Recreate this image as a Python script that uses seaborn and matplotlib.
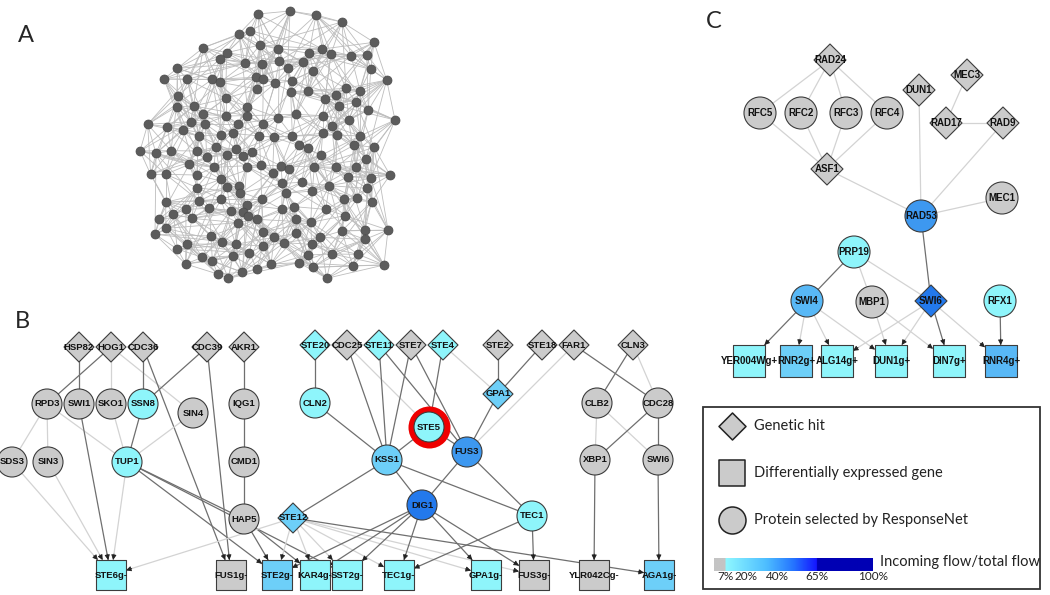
import numpy as np
import pandas as pd
import matplotlib
matplotlib.use('Agg')
import matplotlib.pyplot as plt
from matplotlib.patches import Rectangle
from matplotlib.colors import LinearSegmentedColormap
import seaborn as sns

# ---------------- panel A : background interactome (positions read in panel frame) ----------------
a_x = [357, 390, 420, 250, 320, 300, 473, 567, 607, 633, 693, 740, 762,
       172, 375, 427, 478, 503, 548, 580, 752,
       132, 202, 277, 300, 408, 430, 465, 515,
       412, 512, 565, 678, 720, 647, 615,
       173, 317, 170, 222, 382, 657, 708, 745,
       250, 317, 380, 527, 475, 608,
       212, 256, 355, 428, 686, 635, 83, 142,
       190, 303, 338, 418, 462, 517, 608, 650, 720, 236,
       287, 347, 397, 370, 538, 563, 603, 703, 762, 60, 108, 153, 230, 320, 260,
       738, 208, 282, 380, 422, 483, 508, 583, 648, 707,
       92, 137, 230, 458, 685, 752,
       303, 487, 545, 628, 232, 320, 358, 742,
       360, 497, 577, 137, 238, 303, 425, 672, 712, 755,
       198, 268, 333, 380, 370, 485, 523, 617,
       160, 216, 385, 412, 527, 353, 572, 675, 117,
       138, 105, 430, 527, 665, 735, 273, 463, 600, 735,
       202, 307, 347, 430, 493, 575,
       172, 388, 563, 637, 715, 338,
       247, 277, 537, 197, 698,
       410, 453, 367, 578, 293, 325, 620,
       414, 510, 588, 666, 800, 825, 810, 804, 792]
a_y = [12, 2, 45, 53, 68, 87, 57, 70, 57, 72, 77, 75, 37,
       115, 100, 102, 93, 113, 97, 122, 118,
       147, 148, 148, 157, 142, 148, 160, 152,
       177, 185, 183, 175, 182, 195, 207,
       198, 205, 230, 228, 230, 228, 217, 240,
       253, 258, 257, 253, 263, 257,
       275, 282, 282, 282, 270, 288, 283, 290,
       300, 315, 310, 318, 322, 318, 310, 315, 318, 318,
       352, 357, 365, 378, 345, 355, 376, 345, 352, 363, 370, 362, 363, 375, 382,
       387, 403, 412, 410, 405, 408, 418, 410, 412, 410,
       433, 433, 435, 430, 440, 445,
       448, 460, 457, 467, 473, 472, 467, 475,
       490, 490, 483, 517, 513, 508, 508, 508, 505, 515,
       538, 535, 542, 525, 545, 537, 530, 538,
       553, 565, 557, 568, 567, 578, 577, 557, 568,
       595, 613, 605, 610, 603, 600, 618, 622, 622, 628,
       642, 635, 643, 648, 638, 643,
       657, 668, 675, 672, 673, 678,
       682, 692, 698, 702, 707,
       717, 702, 727, 712, 732, 745, 745,
       -48, -57, -45, -24, 150, 270, 435, 600, 705]

# ---------------- panel B : pheromone response network ----------------
b_names = ['HSP82', 'HOG1', 'CDC36', 'CDC39', 'AKR1', 'STE20', 'CDC25', 'STE11', 'STE7', 'STE4',
           'STE2', 'STE18', 'FAR1', 'CLN3',
           'RPD3', 'SWI1', 'SKO1', 'SSN8', 'SIN4', 'IQG1', 'CLN2', 'GPA1', 'CLB2', 'CDC28',
           'STE5', 'SDS3', 'SIN3', 'TUP1', 'CMD1', 'KSS1', 'FUS3', 'XBP1', 'SWI6',
           'HAP5', 'STE12', 'DIG1', 'TEC1',
           'STE6g-', 'FUS1g-', 'STE2g-', 'KAR4g-', 'SST2g-', 'TEC1g-', 'GPA1g-', 'FUS3g-',
           'YLR042Cg-', 'AGA1g-']
b_x = [79, 111, 143, 207, 244, 315, 347, 379, 411, 443, 498, 542, 574, 633,
       47, 79, 111, 143, 193, 244, 315, 498, 597, 658,
       429, 12, 48, 127, 244, 387, 467, 595, 658,
       244, 293, 422, 532,
       111, 231, 277, 315, 347, 399, 486, 534, 594, 659]
b_y = [347, 347, 347, 347, 347, 345, 345, 345, 345, 345, 345, 345, 345, 345,
       404, 404, 404, 404, 413, 404, 403, 394, 403, 403,
       427, 462, 462, 462, 462, 460, 452, 460, 460,
       519, 518, 505, 516,
       575, 575, 575, 575, 575, 575, 575, 575, 575, 575]
b_shape = ['hit'] * 14 + ['prot'] * 7 + ['hit'] + ['prot'] * 11 + ['prot', 'hit', 'prot', 'prot'] + ['gene'] * 10
b_col = ['gray', 'gray', 'gray', 'gray', 'gray', 'c1', 'gray', 'c1', 'gray', 'c1', 'gray', 'gray', 'gray', 'gray',
         'gray', 'gray', 'gray', 'c1', 'gray', 'gray', 'c1', 'c2', 'gray', 'gray',
         'c1', 'gray', 'gray', 'c1', 'gray', 'c2', 'c3', 'gray', 'gray',
         'gray', 'c2', 'c4', 'c1',
         'c1', 'gray', 'c2', 'c1', 'c1', 'c1', 'c1', 'gray', 'gray', 'c2']
b_edges = [('HSP82', 'SWI1', 'd'), ('HOG1', 'RPD3', 'd'), ('HOG1', 'SKO1', 'l'), ('HOG1', 'SIN4', 'l'),
           ('CDC36', 'SSN8', 'd'), ('CDC36', 'FUS1g-', 'd'), ('CDC39', 'SSN8', 'd'), ('CDC39', 'FUS1g-', 'd'),
           ('AKR1', 'IQG1', 'd'), ('RPD3', 'SDS3', 'l'), ('RPD3', 'SIN3', 'l'), ('RPD3', 'TUP1', 'l'),
           ('SKO1', 'TUP1', 'l'), ('SSN8', 'TUP1', 'd'), ('SIN4', 'TUP1', 'l'), ('IQG1', 'CMD1', 'd'),
           ('CMD1', 'HAP5', 'd'), ('TUP1', 'HAP5', 'd'), ('TUP1', 'STE2g-', 'd'), ('TUP1', 'SST2g-', 'd'),
           ('SDS3', 'STE6g-', 'l'), ('SIN3', 'STE6g-', 'l'), ('SWI1', 'STE6g-', 'd'), ('TUP1', 'STE6g-', 'l'),
           ('HAP5', 'STE2g-', 'd'), ('HAP5', 'KAR4g-', 'd'), ('STE12', 'STE6g-', 'l'), ('STE12', 'STE2g-', 'l'),
           ('STE12', 'KAR4g-', 'l'), ('STE12', 'SST2g-', 'l'), ('STE12', 'TEC1g-', 'l'), ('STE12', 'GPA1g-', 'l'),
           ('STE12', 'FUS3g-', 'l'), ('STE12', 'AGA1g-', 'd'), ('KSS1', 'STE12', 'd'), ('STE20', 'CLN2', 'd'),
           ('CLN2', 'KSS1', 'd'), ('CDC25', 'KSS1', 'd'), ('CDC25', 'STE5', 'l'), ('STE11', 'KSS1', 'd'),
           ('STE11', 'FUS3', 'd'), ('STE7', 'KSS1', 'd'), ('STE7', 'FUS3', 'd'), ('STE4', 'STE5', 'd'),
           ('STE4', 'GPA1', 'l'), ('STE2', 'GPA1', 'd'), ('STE18', 'GPA1', 'd'), ('FAR1', 'FUS3', 'l'),
           ('FAR1', 'CDC28', 'd'), ('CLN3', 'CLB2', 'd'), ('CLN3', 'CDC28', 'l'), ('GPA1', 'FUS3', 'd'),
           ('STE5', 'KSS1', 'd'), ('STE5', 'FUS3', 'd'), ('KSS1', 'DIG1', 'd'), ('FUS3', 'DIG1', 'd'),
           ('KSS1', 'TEC1', 'd'), ('FUS3', 'TEC1', 'd'), ('DIG1', 'STE2g-', 'd'), ('DIG1', 'KAR4g-', 'd'),
           ('DIG1', 'SST2g-', 'd'), ('DIG1', 'TEC1g-', 'd'), ('DIG1', 'GPA1g-', 'd'), ('DIG1', 'FUS3g-', 'd'),
           ('TEC1', 'TEC1g-', 'd'), ('TEC1', 'FUS3g-', 'd'), ('CLB2', 'XBP1', 'l'), ('CLB2', 'SWI6', 'l'),
           ('CDC28', 'XBP1', 'd'), ('CDC28', 'SWI6', 'd'), ('XBP1', 'YLR042Cg-', 'd'), ('SWI6', 'AGA1g-', 'd')]

# ---------------- panel C : DNA damage network ----------------
c_names = ['RAD24', 'RFC5', 'RFC2', 'RFC3', 'RFC4', 'DUN1', 'MEC3', 'RAD17', 'RAD9', 'ASF1', 'MEC1',
           'RAD53', 'PRP19', 'SWI4', 'MBP1', 'SWI6', 'RFX1',
           'YER004Wg+', 'RNR2g+', 'ALG14g+', 'DUN1g+', 'DIN7g+', 'RNR4g+']
c_x = [830, 760, 801, 846, 887, 919, 967, 946, 1003, 827, 1002,
       921, 854, 807, 872, 931, 1000,
       749, 796, 837, 891, 949, 1001]
c_y = [60, 113, 113, 113, 113, 90, 75, 123, 123, 169, 198,
       216, 252, 301, 302, 301, 301,
       361, 361, 361, 361, 361, 361]
c_shape = ['hit', 'prot', 'prot', 'prot', 'prot', 'hit', 'hit', 'hit', 'hit', 'hit', 'prot',
           'prot', 'prot', 'prot', 'prot', 'hit', 'prot'] + ['gene'] * 6
c_col = ['gray'] * 11 + ['c3', 'c1', 'c2b', 'gray', 'c4', 'c1',
                         'c1', 'c2', 'c1', 'c1', 'c1', 'c2b']
c_edges = [('RAD24', 'RFC5', 'l'), ('RAD24', 'RFC2', 'l'), ('RAD24', 'RFC3', 'l'), ('RAD24', 'RFC4', 'l'),
           ('RFC5', 'ASF1', 'l'), ('RFC2', 'ASF1', 'l'), ('RFC3', 'ASF1', 'l'), ('RFC4', 'ASF1', 'l'),
           ('ASF1', 'RAD53', 'l'), ('DUN1', 'RAD53', 'l'), ('MEC3', 'RAD17', 'l'), ('RAD17', 'RAD9', 'l'),
           ('RAD9', 'RAD53', 'l'), ('MEC1', 'RAD53', 'l'), ('RAD53', 'SWI6', 'd'),
           ('PRP19', 'SWI4', 'd'), ('PRP19', 'MBP1', 'l'), ('PRP19', 'SWI6', 'l'),
           ('SWI4', 'YER004Wg+', 'd'), ('SWI4', 'RNR2g+', 'l'), ('SWI4', 'ALG14g+', 'l'), ('SWI4', 'DUN1g+', 'l'),
           ('MBP1', 'DUN1g+', 'l'), ('MBP1', 'DIN7g+', 'l'),
           ('SWI6', 'ALG14g+', 'l'), ('SWI6', 'DUN1g+', 'l'), ('SWI6', 'DIN7g+', 'd'), ('SWI6', 'RNR4g+', 'l'),
           ('RFX1', 'RNR4g+', 'd')]

# legend / flow scale
legend_labels = ['Genetic hit', 'Differentially expressed gene', 'Protein selected by ResponseNet']
legend_shapes = ['hit', 'gene', 'prot']
flow_ticks = [7, 20, 40, 65, 100]

palette = {'gray': '#cbcbcb', 'c1': '#8ef5fb', 'c2': '#6dcff8', 'c2b': '#58b8f6',
           'c3': '#3d98f0', 'c4': '#2379ec'}
markers = {'hit': 'D', 'gene': 's', 'prot': 'o'}
PT = 0.72  # points per pixel at dpi 100

sns.set_style('white')
plt.rcParams['font.family'] = ['Liberation Sans', 'DejaVu Sans']

fig = plt.figure(figsize=(10.5, 5.95), dpi=100)
ax = fig.add_axes([0, 0, 1, 1])


def marker_size(shape, d):
    # d = visual extent in pixels
    if shape == 'hit':
        return (d / 1.414 * PT) ** 2
    return (d * PT) ** 2


def draw_network(df, edges, d, fs):
    pos = {n: (x, y) for n, x, y in zip(df['name'], df['x'], df['y'])}
    kind = dict(zip(df['name'], df['shape']))
    for s, t, k in edges:
        x0, y0 = pos[s]
        x1, y1 = pos[t]
        col = '#6f6f6f' if k == 'd' else '#d3d3d3'
        if kind[t] == 'gene':
            dx, dy = x1 - x0, y1 - y0
            h = d / 2
            f = min(h / abs(dx) if dx else np.inf, h / abs(dy) if dy else np.inf)
            ex, ey = x1 - dx * f, y1 - dy * f
            ax.plot([x0, ex], [y0, ey], color=col, lw=0.9, zorder=1)
            L = np.hypot(dx, dy)
            ax.annotate('', xy=(ex, ey), xytext=(ex - dx / L * 6, ey - dy / L * 6),
                        arrowprops=dict(arrowstyle='-|>', color='#222222', lw=0.6,
                                        mutation_scale=7.5, shrinkA=0, shrinkB=0), zorder=2)
        else:
            ax.plot([x0, x1], [y0, y1], color=col, lw=0.9, zorder=1)
    for shp, mk in markers.items():
        sub = df[df['shape'] == shp]
        sns.scatterplot(data=sub, x='x', y='y', hue='col', palette=palette, marker=mk,
                        s=marker_size(shp, d), edgecolor='#3c3c3c', linewidth=0.8,
                        legend=False, ax=ax, zorder=3)
    for n, x, y in zip(df['name'], df['x'], df['y']):
        ax.text(x, y, n, ha='center', va='center', fontsize=fs, fontweight='bold',
                color='#111111', zorder=5)


dfB = pd.DataFrame({'name': b_names, 'x': b_x, 'y': b_y, 'shape': b_shape, 'col': b_col})
dfC = pd.DataFrame({'name': c_names, 'x': c_x, 'y': c_y, 'shape': c_shape, 'col': c_col})

# red ring around STE5
ste5 = dfB[dfB['name'] == 'STE5']
ax.scatter(ste5['x'], ste5['y'], s=(42 * PT) ** 2, color='#ee0000', zorder=2.5, linewidths=0)

draw_network(dfB, b_edges, 30, 6.8)
draw_network(dfC, c_edges, 32, 7.0)

# legend box
ax.add_patch(Rectangle((703, 407), 337, 182, fill=False, ec='#333333', lw=1.3, zorder=1))
for i, (lab, shp) in enumerate(zip(legend_labels, legend_shapes)):
    yy = 426 + i * 47
    ax.scatter([732], [yy], marker=markers[shp], s=marker_size(shp, 27), color='#cbcbcb',
               edgecolor='#222222', linewidths=1.1, zorder=3)
    ax.text(754, yy, lab, ha='left', va='center', fontsize=10.5, family=['Lato', 'DejaVu Sans'],
            color='#222222')

# flow scale bar
flow_cmap = LinearSegmentedColormap.from_list('flow', [
    (0.0, '#c4c4c4'), (0.069, '#c4c4c4'), (0.07, '#8ff8ff'), (0.33, '#4dbdff'),
    (0.5, '#2574ff'), (0.649, '#1414ff'), (0.65, '#0000b4'), (1.0, '#0000b4')])
grad = np.linspace(0, 1, 400)[None, :]
x_of = lambda v: 714 + v * 1.59
ax.imshow(grad, extent=(x_of(0), x_of(100), 571, 558), cmap=flow_cmap, aspect='auto', zorder=2)
for v in flow_ticks:
    ax.text(x_of(v), 577, f'{v}%', ha='center', va='center', fontsize=8.5,
            family=['Lato', 'DejaVu Sans'], color='#222222')
ax.text(880, 562, 'Incoming flow/total flow', ha='left', va='center', fontsize=10.5,
        family=['Lato', 'DejaVu Sans'], color='#222222')

# panel letters
for lab, (x, y) in zip(['A', 'B', 'C'], [(26, 36), (22, 322), (714, 22)]):
    ax.text(x, y, lab, ha='center', va='center', fontsize=17, family=['Lato', 'DejaVu Sans'])

ax.set_xlim(0, 1050)
ax.set_ylim(595, 0)
ax.axis('off')

# panel A in its own frame
axA = fig.add_axes([120 / 1050, (595 - 300) / 595, 280 / 1050, 300 / 595])
pts = np.column_stack([a_x, a_y]).astype(float)
dist = np.hypot(pts[:, None, 0] - pts[None, :, 0], pts[:, None, 1] - pts[None, :, 1])
order = np.argsort(dist, axis=1)
pairs = set()
for i in range(len(pts)):
    for r in [1, 2, 3, 4, 5, 8, 12, 18, 25]:
        j = order[i, r]
        pairs.add((min(i, j), max(i, j)))
for i, j in pairs:
    axA.plot([pts[i, 0], pts[j, 0]], [pts[i, 1], pts[j, 1]], color='#bdbdbd', lw=0.6, zorder=1)
dfA = pd.DataFrame({'x': a_x, 'y': a_y})
sns.scatterplot(data=dfA, x='x', y='y', color='#5c5c5c', s=(9 * PT) ** 2, edgecolor='#4a4a4a',
                linewidth=0.5, legend=False, ax=axA, zorder=3)
axA.set_xlim(0, 840)
axA.set_ylim(810, -90)
axA.axis('off')

fig.savefig('out.png', dpi=100)
